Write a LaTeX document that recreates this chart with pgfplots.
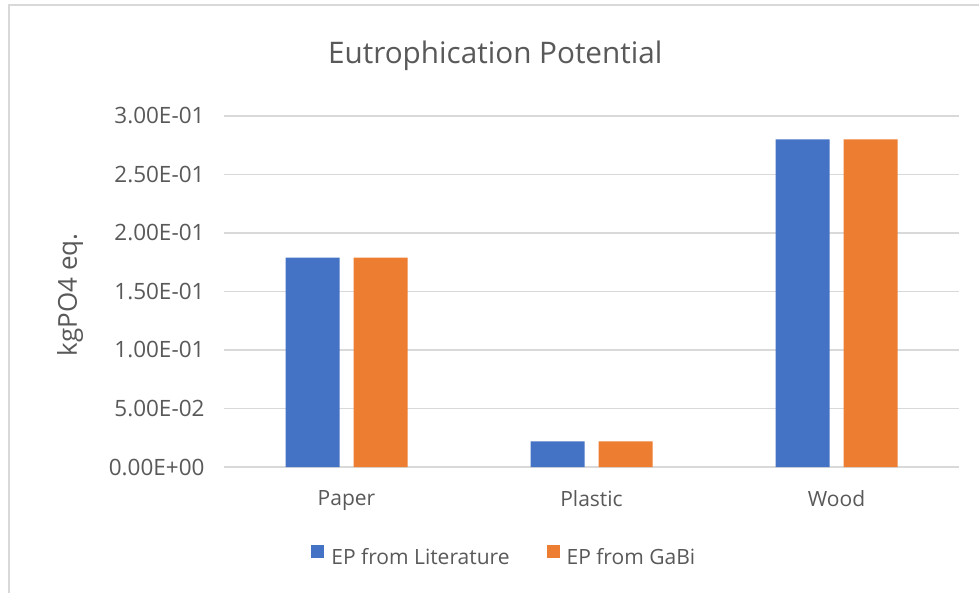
\documentclass[border=0pt]{standalone}
\usepackage{fontspec}
\setmainfont{Open Sans}
\usepackage{pgfplots}
\pgfplotsset{compat=1.18}
\definecolor{txt}{HTML}{595959}
\definecolor{gridc}{HTML}{D9D9D9}
\definecolor{blueb}{HTML}{4472C4}
\definecolor{orangeb}{HTML}{ED7D31}
\begin{document}
\begin{tikzpicture}
\useasboundingbox (0pt,0pt) rectangle (979pt,592pt);
\fill[white] (0pt,0pt) rectangle (979pt,592pt);
\draw[line width=2pt, color=gridc] (9pt,-10pt) -- (9pt,587pt) -- (990pt,587pt);
\begin{axis}[
  at={(224pt,125pt)}, anchor=south west,
  scale only axis, width=735pt, height=351pt,
  xmin=-0.5, xmax=2.5, ymin=0, ymax=0.3,
  axis line style={draw=none},
  major tick length=0pt,
  ymajorgrids, grid style={gridc, line width=1.5pt},
  ytick={0,0.05,0.1,0.15,0.2,0.25,0.3},
  yticklabels={0.00E+00,5.00E-02,1.00E-01,1.50E-01,2.00E-01,2.50E-01,3.00E-01},
  xtick={0,1,2}, xticklabels={Paper,Plastic,Wood},
  yticklabel style={font=\fontsize{22.5}{27}\selectfont, text=txt},
  xticklabel style={font=\fontsize{21}{25}\selectfont, text=txt},
  yticklabel shift=16pt,
  xticklabel shift=20pt,
  ylabel={kgPO4 eq.},
  every axis y label/.style={at={(axis description cs:-0.2095,0.491)}, rotate=90, anchor=center, font=\fontsize{26}{31}\selectfont, text=txt},
  title={Eutrophication Potential},
  title style={at={(axis description cs:0.369,1.154)}, anchor=center, font=\fontsize{29.7}{35}\selectfont, text=txt},
  legend style={at={(axis description cs:0.38,-0.252)}, anchor=center, draw=none, fill=none, legend columns=2,
    font=\fontsize{21}{25}\selectfont, text=txt, nodes={inner sep=0pt},
    /tikz/every odd column/.append style={column sep=7pt},
    /tikz/every even column/.append style={column sep=37pt}},
  legend image code/.code={\draw[#1, draw=none] (0pt,-0.5pt) rectangle (13pt,12.5pt);},
  bar width=54pt,
]
\addplot[ybar, fill=blueb, draw=none, bar shift=-34pt] coordinates {(0,0.179) (1,0.022) (2,0.28)};
\addplot[ybar, fill=orangeb, draw=none, bar shift=34pt] coordinates {(0,0.179) (1,0.022) (2,0.28)};
\legend{EP from Literature, EP from GaBi}
\end{axis}
\end{tikzpicture}
\end{document}
